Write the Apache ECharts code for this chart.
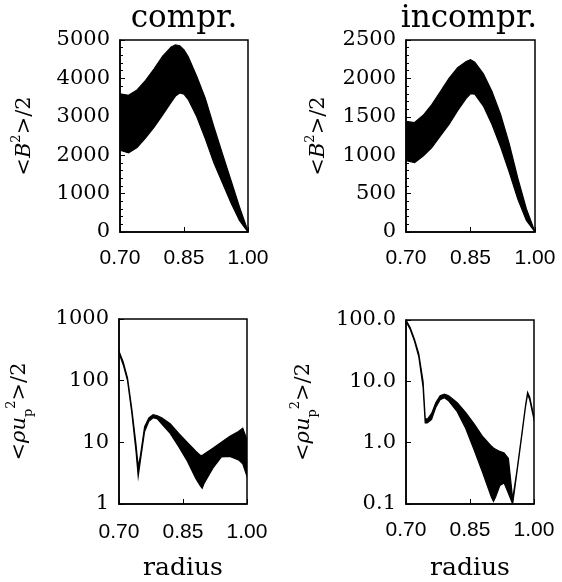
<!DOCTYPE html>
<html>
<head>
<meta charset="utf-8">
<script src="https://cdn.jsdelivr.net/npm/echarts@6/dist/echarts.min.js"></script>
<style>html,body{margin:0;padding:0;background:#fff;}#c{width:562px;height:582px;}</style>
</head>
<body>
<div id="c"></div>
<script>
// ---- data (envelopes of the bundle of curves) ----
const xTL = [0.70,0.72,0.74,0.76,0.78,0.80,0.82,0.83,0.84,0.85,0.86,0.88,0.90,0.92,0.94,0.96,0.98,1.00];
const upperTL = [3600,3560,3700,3950,4250,4580,4820,4870,4850,4740,4560,4050,3480,2740,2040,1350,650,20];
const lowerTL = [2130,2060,2200,2450,2730,3050,3380,3540,3620,3590,3450,3000,2430,1800,1280,760,300,0];

const xTR = [0.70,0.72,0.74,0.76,0.78,0.80,0.82,0.84,0.85,0.86,0.88,0.90,0.92,0.94,0.96,0.98,1.00];
const upperTR = [1440,1425,1520,1660,1830,2000,2140,2220,2245,2210,2060,1830,1530,1150,700,300,0];
const lowerTR = [930,905,990,1100,1250,1400,1580,1740,1800,1795,1640,1400,1110,780,430,150,0];

const xBL = [0.70,0.71,0.72,0.73,0.74,0.745,0.75,0.76,0.77,0.78,0.79,0.80,0.82,0.84,0.86,0.88,0.89,0.895,0.90,0.92,0.94,0.96,0.98,0.99,1.00];
const upperBL = [300,200,110,35,9,4,6,18,25,28,27,25,20,14,10,7.2,6.2,6.1,6.5,8,10,12.5,15,17,11];
const lowerBL = [280,180,100,30,7,2.8,5,15,22,25,24,20,14,8.5,5,2.6,2.0,1.8,2.2,3.8,5.8,5.9,5.2,4.5,2.8];

const xBR = [0.70,0.71,0.72,0.73,0.74,0.745,0.75,0.76,0.77,0.78,0.79,0.80,0.82,0.84,0.86,0.88,0.90,0.905,0.91,0.92,0.93,0.94,0.95,0.96,0.97,0.98,0.985,0.99,1.00];
const upperBR = [100,75,48,28,10,2.5,2.4,3.0,4.5,5.8,6.2,5.8,4.5,3.1,2.0,1.25,0.88,0.82,0.78,0.72,0.68,0.55,0.12,0.35,1.17,4.0,6.6,5.5,2.6];
const lowerBR = [95,70,45,25,8,2.1,2.1,2.4,3.8,5.0,5.4,4.8,3.2,1.7,0.75,0.32,0.13,0.11,0.13,0.2,0.22,0.15,0.1,0.33,1.1,3.8,6.2,5.0,2.4];

const titles = ['compr.', 'incompr.'];

// ---- chart ----
const chart = echarts.init(document.getElementById('c'), null, {renderer: 'canvas'});
const SERIF = '"DejaVu Serif", serif';
const SANS = '"Liberation Sans", Arial, sans-serif';

const grids = [
  {left: 120, top: 40, width: 128, height: 192},
  {left: 406, top: 40, width: 129, height: 192},
  {left: 119, top: 319, width: 128, height: 195},
  {left: 406, top: 320, width: 128, height: 196}
];

const nameRich = {
  a: {fontFamily: SERIF, fontSize: 21, lineHeight: 30, verticalAlign: 'middle', color: '#000'},
  b: {fontFamily: SERIF, fontSize: 21, fontStyle: 'italic', lineHeight: 30, color: '#000'},
  s: {fontFamily: SERIF, fontSize: 13, lineHeight: 13, verticalAlign: 'top', color: '#000'},
  d: {fontFamily: SERIF, fontSize: 13, lineHeight: 13, verticalAlign: 'bottom', color: '#000'}
};
const nameB = '{a|<}{b|B}{s|2}{a|>/2}';
const nameU = '{a|<}{b|ρu}{d|p}{s|2}{a|>/2}';

function xAxis(i, withName, margin) {
  return {
    type: 'value', gridIndex: i, min: 0.70, max: 1.00, interval: 0.15,
    axisLine: {show: true, onZero: false, lineStyle: {color: '#000', width: 1.5}},
    axisTick: {show: true, inside: true, length: 5, lineStyle: {color: '#000'}},
    splitLine: {show: false},
    axisLabel: {color: '#000', fontFamily: SANS, fontSize: 21, margin: margin,
      formatter: v => v.toFixed(2)},
    name: withName ? 'radius' : '',
    nameLocation: 'middle', nameGap: 52,
    nameTextStyle: {fontFamily: SERIF, fontSize: 25, color: '#000'}
  };
}
function yAxisLin(i, max, interval, gap) {
  return {
    type: 'value', gridIndex: i, min: 0, max: max, interval: interval,
    axisLine: {show: true, lineStyle: {color: '#000', width: 1.5}},
    axisTick: {show: true, inside: true, length: 5, lineStyle: {color: '#000'}},
    minorTick: {show: true, splitNumber: 5, length: 3, lineStyle: {color: '#000'}},
    splitLine: {show: false},
    axisLabel: {color: '#000', fontFamily: SERIF, fontSize: 21, margin: 10, formatter: v => String(v)},
    name: nameB, nameLocation: 'middle', nameRotate: 90, nameGap: gap,
    nameTextStyle: {rich: nameRich}
  };
}
function yAxisLog(i, min, max, fmt, gap) {
  return {
    type: 'log', logBase: 10, gridIndex: i, min: min, max: max,
    axisLine: {show: true, lineStyle: {color: '#000', width: 1.5}},
    axisTick: {show: true, inside: true, length: 5, lineStyle: {color: '#000'}},
    splitLine: {show: false},
    axisLabel: {color: '#000', fontFamily: SERIF, fontSize: 21, margin: 10, formatter: fmt},
    name: nameU, nameLocation: 'middle', nameRotate: 90, nameGap: gap,
    nameTextStyle: {rich: nameRich}
  };
}

function band(i, xs, up, lo) {
  return {
    type: 'custom', xAxisIndex: i, yAxisIndex: i, silent: true, clip: true,
    data: [[xs[0], up[0]]],
    encode: {x: 0, y: 1},
    renderItem: function (params, api) {
      const pts = [];
      for (let j = 0; j < xs.length; j++) pts.push(api.coord([xs[j], up[j]]));
      for (let j = xs.length - 1; j >= 0; j--) pts.push(api.coord([xs[j], lo[j]]));
      return {type: 'polygon', shape: {points: pts},
        style: {fill: '#000', stroke: '#000', lineWidth: 1.2}};
    }
  };
}

const option = {
  backgroundColor: '#fff',
  animation: false,
  grid: grids.map(g => Object.assign({show: true, borderColor: '#000', borderWidth: 1.5, backgroundColor: 'transparent', containLabel: false}, g)),
  xAxis: [xAxis(0, false, 16), xAxis(1, false, 16), xAxis(2, true, 18), xAxis(3, true, 16)],
  yAxis: [
    yAxisLin(0, 5000, 1000, 80),
    yAxisLin(1, 2500, 500, 72),
    yAxisLog(2, 1, 1000, v => String(Math.round(v)), 84),
    yAxisLog(3, 0.1, 100, v => Number(v).toFixed(1), 87)
  ],
  graphic: [
    {type: 'text', x: 184, y: 19, style: {text: titles[0], align: 'center', verticalAlign: 'middle', font: '31px "DejaVu Serif", serif', fill: '#000'}},
    {type: 'text', x: 469, y: 19, style: {text: titles[1], align: 'center', verticalAlign: 'middle', font: '31px "DejaVu Serif", serif', fill: '#000'}}
  ],
  series: [
    band(0, xTL, upperTL, lowerTL),
    band(1, xTR, upperTR, lowerTR),
    band(2, xBL, upperBL, lowerBL),
    band(3, xBR, upperBR, lowerBR)
  ]
};
chart.setOption(option);
</script>
</body>
</html>
